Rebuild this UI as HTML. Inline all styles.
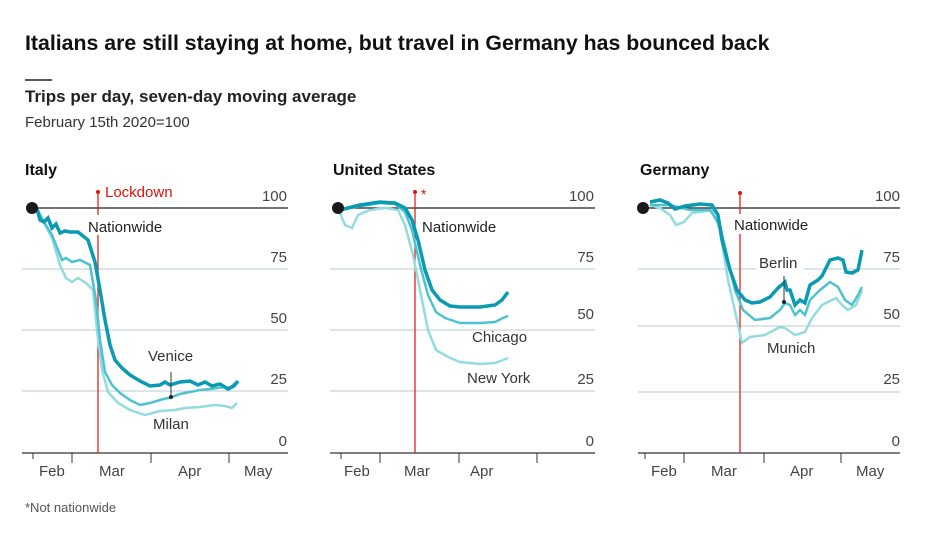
<!DOCTYPE html>
<html><head><meta charset="utf-8"><style>
body{margin:0;background:#fff;width:937px;height:539px;overflow:hidden;font-family:"Liberation Sans",sans-serif;}
</style></head><body>
<svg width="937" height="539" xmlns="http://www.w3.org/2000/svg" font-family="Liberation Sans, sans-serif">
<text x="25" y="50" font-size="21.3" font-weight="bold" fill="#111">Italians are still staying at home, but travel in Germany has bounced back</text>
<line x1="25" y1="80" x2="52" y2="80" stroke="#222" stroke-width="1.5"/>
<text x="25" y="102" font-size="17" font-weight="bold" fill="#222">Trips per day, seven-day moving average</text>
<text x="25" y="127" font-size="15" fill="#333">February 15th 2020=100</text>
<text x="25" y="512" font-size="13" fill="#555">*Not nationwide</text>

<g font-size="16" font-weight="bold" fill="#111">
<text x="25" y="175">Italy</text><text x="333" y="175">United States</text><text x="640" y="175">Germany</text></g>

<!-- Italy -->
<g>
<g stroke="#b9c8ce" stroke-width="1"><line x1="22" y1="269" x2="288" y2="269"/><line x1="22" y1="330" x2="288" y2="330"/><line x1="22" y1="391" x2="288" y2="391"/></g>
<line x1="35" y1="208" x2="288" y2="208" stroke="#222" stroke-width="1.2"/>
<line x1="22" y1="453" x2="288" y2="453" stroke="#333" stroke-width="1.2"/>
<g stroke="#333"><line x1="33" y1="453" x2="33" y2="459"/><line x1="72" y1="453" x2="72" y2="463"/><line x1="151" y1="453" x2="151" y2="463"/><line x1="229" y1="453" x2="229" y2="463"/></g>
<g font-size="15" fill="#444"><text x="39" y="476">Feb</text><text x="99" y="476">Mar</text><text x="178" y="476">Apr</text><text x="244" y="476">May</text></g>
<g font-size="15" fill="#444" text-anchor="end"><text x="287" y="201">100</text><text x="287" y="262">75</text><text x="287" y="323">50</text><text x="287" y="384">25</text><text x="287" y="446">0</text></g>
<line x1="98" y1="192" x2="98" y2="453" stroke="#e3120b" stroke-width="1.2"/><circle cx="98" cy="192" r="2" fill="#e3120b"/>
<text x="105" y="197" font-size="15" fill="#e3120b">Lockdown</text>
<rect x="86" y="215" width="86" height="20" fill="#fff"/>
<text x="88" y="232" font-size="15" fill="#222">Nationwide</text>
<polyline fill="none" stroke="#93dbe2" stroke-width="2.5" points="37,209 52,238 60,265 66,278 72,282 78,278 86,283 93,290 97,330 102,370 108,392 118,403 130,410 145,415 160,411 175,410 185,408 200,407 215,405 225,406 232,408 237,403"/>
<polyline fill="none" stroke="#4ec3cf" stroke-width="2.5" points="37,209 44,222 52,235 58,250 62,260 66,258 72,262 80,260 90,265 96,300 100,340 105,372 112,385 120,393 130,400 140,405 150,403 160,400 172,397 180,394 190,392 200,390 210,389 225,387 230,388 235,383"/>
<polyline fill="none" stroke="#0a9bb3" stroke-width="3.5" points="37,209 40,220 44,222 48,218 52,228 56,224 60,233 65,231 70,232 78,232 88,240 95,262 100,290 105,320 110,345 115,360 122,368 130,375 140,381 150,386 160,385 165,382 170,385 180,382 190,381 198,385 205,382 212,386 220,384 228,389 234,386 238,381"/>
<line x1="171" y1="372" x2="171" y2="397" stroke="#333"/><circle cx="171" cy="397" r="2" fill="#222"/>
<text x="148" y="361" font-size="15" fill="#333">Venice</text>
<text x="153" y="429" font-size="15" fill="#333">Milan</text>
<circle cx="32" cy="208" r="6" fill="#1a1a1a"/>
</g>

<!-- US -->
<g>
<g stroke="#b9c8ce" stroke-width="1"><line x1="330" y1="269" x2="595" y2="269"/><line x1="330" y1="330" x2="595" y2="330"/><line x1="330" y1="391" x2="595" y2="391"/></g>
<line x1="340" y1="208" x2="595" y2="208" stroke="#222" stroke-width="1.2"/>
<line x1="330" y1="453" x2="595" y2="453" stroke="#333" stroke-width="1.2"/>
<g stroke="#333"><line x1="341" y1="453" x2="341" y2="459"/><line x1="380" y1="453" x2="380" y2="463"/><line x1="459" y1="453" x2="459" y2="463"/><line x1="537" y1="453" x2="537" y2="463"/></g>
<g font-size="15" fill="#444"><text x="344" y="476">Feb</text><text x="404" y="476">Mar</text><text x="470" y="476">Apr</text></g>
<g font-size="15" fill="#444" text-anchor="end"><text x="594" y="201">100</text><text x="594" y="262">75</text><text x="594" y="319">50</text><text x="594" y="384">25</text><text x="594" y="446">0</text></g>
<line x1="415" y1="192" x2="415" y2="453" stroke="#e3120b" stroke-width="1.2"/><circle cx="415" cy="192" r="2" fill="#e3120b"/>
<text x="421" y="199" font-size="14" fill="#e3120b">*</text>
<rect x="420" y="215" width="86" height="20" fill="#fff"/>
<text x="422" y="232" font-size="15" fill="#222">Nationwide</text>
<polyline fill="none" stroke="#93dbe2" stroke-width="2.5" points="340,213 345,225 352,228 358,215 370,210 385,208 398,210 405,225 413,255 420,290 428,330 436,350 448,357 460,362 480,364 495,363 503,360 508,358"/>
<polyline fill="none" stroke="#4ec3cf" stroke-width="2.5" points="340,210 355,207 380,203 395,204 405,212 412,230 420,265 428,295 436,312 445,318 460,323 480,323 495,322 503,318 508,316"/>
<polyline fill="none" stroke="#0a9bb3" stroke-width="3.5" points="340,210 360,205 380,202 395,203 405,208 412,220 418,240 425,270 432,290 440,300 450,306 460,307 480,307 495,305 502,300 508,292"/>
<text x="472" y="342" font-size="15" fill="#333">Chicago</text>
<text x="467" y="383" font-size="15" fill="#333">New York</text>
<circle cx="338" cy="208" r="6" fill="#1a1a1a"/>
</g>

<!-- Germany -->
<g>
<g stroke="#b9c8ce" stroke-width="1"><line x1="638" y1="269" x2="900" y2="269"/><line x1="638" y1="326" x2="900" y2="326"/><line x1="638" y1="392" x2="900" y2="392"/></g>
<line x1="648" y1="208" x2="900" y2="208" stroke="#222" stroke-width="1.2"/>
<line x1="638" y1="453" x2="900" y2="453" stroke="#333" stroke-width="1.2"/>
<g stroke="#333"><line x1="645" y1="453" x2="645" y2="459"/><line x1="684" y1="453" x2="684" y2="463"/><line x1="764" y1="453" x2="764" y2="463"/><line x1="841" y1="453" x2="841" y2="463"/></g>
<g font-size="15" fill="#444"><text x="651" y="476">Feb</text><text x="711" y="476">Mar</text><text x="790" y="476">Apr</text><text x="856" y="476">May</text></g>
<g font-size="15" fill="#444" text-anchor="end"><text x="900" y="201">100</text><text x="900" y="262">75</text><text x="900" y="319">50</text><text x="900" y="384">25</text><text x="900" y="446">0</text></g>
<line x1="740" y1="193" x2="740" y2="453" stroke="#e3120b" stroke-width="1.2"/><circle cx="740" cy="193" r="2" fill="#e3120b"/>
<polyline fill="none" stroke="#93dbe2" stroke-width="2.5" points="650,205 660,208 670,215 676,225 684,222 692,213 700,212 712,210 720,230 728,280 737,320 742,343 750,337 765,335 780,327 785,328 795,335 805,332 812,318 822,305 836,298 842,305 848,310 856,305 862,290"/>
<polyline fill="none" stroke="#4ec3cf" stroke-width="2.5" points="650,205 670,205 690,210 710,210 720,225 728,260 735,290 743,310 755,320 770,318 780,310 785,303 790,305 795,315 800,310 805,315 810,300 820,290 830,282 838,287 845,300 852,305 858,295 862,287"/>
<rect x="756" y="253" width="48" height="20" fill="#fff"/>
<polyline fill="none" stroke="#0a9bb3" stroke-width="3.5" points="650,202 660,200 668,203 675,209 685,206 700,204 712,205 718,215 722,240 730,270 737,290 745,300 752,303 760,302 770,297 778,288 785,282 787,290 790,290 795,305 800,300 805,303 810,285 818,280 822,276 830,260 838,258 843,260 846,272 852,273 858,270 862,250"/>
<rect x="732" y="214" width="84" height="20" fill="#fff"/>
<text x="734" y="230" font-size="15" fill="#222">Nationwide</text>
<text x="759" y="268" font-size="15" fill="#333">Berlin</text>
<line x1="784" y1="276" x2="784" y2="302" stroke="#333"/><circle cx="784" cy="302" r="2" fill="#222"/>
<text x="767" y="353" font-size="15" fill="#333">Munich</text>
<circle cx="643" cy="208" r="6" fill="#1a1a1a"/>
</g>
</svg>
</body></html>
